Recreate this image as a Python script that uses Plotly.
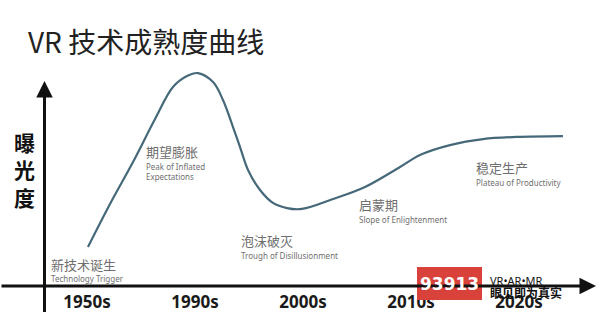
import plotly.graph_objects as go

# ---- data ----
decades = ["1950s", "1990s", "2000s", "2010s", "2020s"]
decade_pos = [0, 1, 2, 3, 4]

curve_x = [0.009, 0.213, 0.426, 0.630, 0.796, 0.926, 1.028, 1.167, 1.259, 1.352,
           1.417, 1.491, 1.602, 1.722, 1.852, 1.991, 2.278, 2.574, 2.898, 3.083,
           3.361, 3.667, 3.981, 4.407]
curve_y = [18.6, 38.6, 58.1, 78.1, 93.0, 98.1, 99.5, 95.3, 87.0, 74.4,
           65.1, 54.4, 45.1, 39.1, 36.7, 36.3, 40.9, 46.5, 55.8, 61.4,
           66.0, 68.8, 69.8, 70.2]

phase_cn = ["新技术诞生", "期望膨胀", "泡沫破灭", "启蒙期", "稳定生产"]
phase_en = ["Technology Trigger", "Peak of Inflated<br>Expectations",
            "Trough of Disillusionment", "Slope of Enlightenment",
            "Plateau of Productivity"]

title_text = "VR 技术成熟度曲线"
ylabel_text = "曝<br>光<br>度"

# ---- layout helpers (pixel -> data / paper) ----
def dx(px):
    return (px - 87) / 108


def dy(py):
    return (287 - py) / 2.15


def px_(px):
    return px / 600


def py_(py):
    return (287 - py) / 287


XMIN, XMAX = dx(0), dx(600)
YMAX = dy(0)
AXIS_X = dx(44.5)

# phase label anchors (left edge, vertical centres of CN / EN lines)
phase_left = [50, 145, 240, 358, 475]
phase_cn_cy = [264, 151, 240, 204, 167]
phase_en_top = [271, 159, 248, 212, 175]

fig = go.Figure()
fig.add_trace(go.Scatter(
    x=curve_x, y=curve_y, mode="lines",
    line=dict(color="#46697a", width=2.2, shape="spline", smoothing=1.0),
    hoverinfo="skip", showlegend=False))

fig.update_layout(
    width=600, height=312,
    margin=dict(l=0, r=0, t=0, b=25),
    paper_bgcolor="white", plot_bgcolor="white",
    xaxis=dict(range=[XMIN, XMAX], showgrid=False, zeroline=False, showline=False,
               tickmode="array", tickvals=decade_pos, ticktext=decades,
               ticks="", ticklabelstandoff=3,
               tickfont=dict(family="Noto Sans, DejaVu Sans, sans-serif", size=17,
                             color="#1a1a1a", weight="bold")),
    yaxis=dict(range=[0, YMAX], showgrid=False, zeroline=False, showline=False,
               showticklabels=False, ticks=""),
    font=dict(family="Noto Sans CJK SC, sans-serif"),
)

# x axis line with arrow
fig.add_annotation(x=dx(596), y=dy(286), ax=XMIN, ay=dy(286), xref="x", yref="y",
                   axref="x", ayref="y", showarrow=True, arrowhead=2,
                   arrowsize=1.1, arrowwidth=3, arrowcolor="#111", text="")
# y axis line (extends below x axis) with arrow
fig.add_shape(type="line", xref="x", yref="paper", x0=AXIS_X, x1=AXIS_X,
              y0=-25 / 287, y1=0.2, line=dict(color="#111", width=3))
fig.add_annotation(x=AXIS_X, y=dy(81), ax=AXIS_X, ay=0,
                   xref="x", yref="y", axref="x", ayref="y", showarrow=True,
                   arrowhead=2, arrowsize=1.1, arrowwidth=3, arrowcolor="#111", text="")

# title
fig.add_annotation(x=dx(26), y=dy(41), xref="x", yref="y",
                   xanchor="left", yanchor="middle", showarrow=False, text=title_text,
                   font=dict(family="Noto Sans CJK SC", size=28, color="#222"))
# y label
fig.add_annotation(x=dx(24), y=dy(169), xref="x", yref="y",
                   xanchor="center", yanchor="middle", showarrow=False,
                   text=ylabel_text,
                   font=dict(family="Noto Sans CJK SC", size=21, color="#111",
                             weight="bold"))

# phase labels
for cn, en, lx, cy, ety in zip(phase_cn, phase_en, phase_left, phase_cn_cy, phase_en_top):
    fig.add_annotation(x=dx(lx - 1), y=dy(cy), xref="x", yref="y",
                       xanchor="left", yanchor="middle", showarrow=False,
                       text=cn, font=dict(family="Noto Sans CJK SC", size=13,
                                          color="#6e6e6e"))
    fig.add_annotation(x=dx(lx - 1), y=dy(ety), xref="x", yref="y",
                       xanchor="left", yanchor="top", showarrow=False, align="left",
                       text=en, font=dict(family="Noto Sans", size=8, color="#707070"))

# watermark (paper-referenced so it can sit below the x axis)
fig.add_shape(type="rect", xref="paper", yref="paper",
              x0=px_(417), x1=px_(482), y0=py_(300), y1=py_(267),
              fillcolor="#d8423b", line=dict(width=0), layer="above")
fig.add_annotation(x=px_(449.5), y=py_(284), xref="paper", yref="paper",
                   xanchor="center", yanchor="middle",
                   showarrow=False, text="<b>93913</b>",
                   font=dict(family="DejaVu Sans", size=17, color="white"))
fig.add_annotation(x=px_(488), y=py_(280), xref="paper", yref="paper",
                   xanchor="left", yanchor="middle", showarrow=False, text="VR•AR•MR",
                   font=dict(family="Noto Sans", size=11, color="#111"))
fig.add_annotation(x=px_(488), y=py_(292), xref="paper", yref="paper",
                   xanchor="left", yanchor="middle", showarrow=False,
                   text="<b>眼见即为真实</b>",
                   font=dict(family="Noto Sans CJK SC", size=12, color="#111"))

fig.write_html("out.html")
